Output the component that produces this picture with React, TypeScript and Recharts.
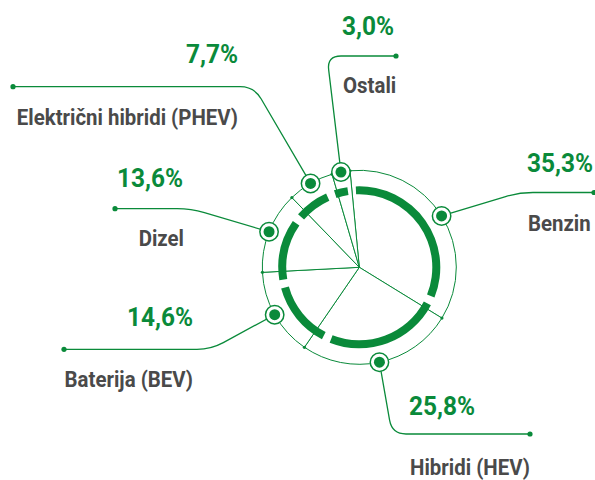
import React from 'react';
import { PieChart, Pie, Cell } from 'recharts';

const categories = ['Benzin', 'Hibridi (HEV)', 'Baterija (BEV)', 'Dizel', 'Električni hibridi (PHEV)', 'Ostali'];
const shares = [35.3, 25.8, 14.6, 13.6, 7.7, 3.0];

const data = categories.map((name, i) => ({ name, value: shares[i] }));

const GREEN = '#0a8a3a';
const GRAY = '#4a4a4a';
const CX = 359.3;
const CY = 267.3;
const R_OUT = 97;
const START = 95.5;

// callout layout (positions only)
const callouts = [
  { ex: 519, ey: 192.5, endX: 594, pct: { x: 527, y: 172, a: 'start' }, lab: { x: 528, y: 231, a: 'start' } },
  { ex: 392, ey: 434, endX: 530, pct: { x: 409, y: 415, a: 'start' }, lab: { x: 410, y: 475, a: 'start' } },
  { ex: 211, ey: 349.3, endX: 64, pct: { x: 193, y: 326, a: 'end' }, lab: { x: 193, y: 387, a: 'end' } },
  { ex: 191, ey: 208.7, endX: 115, pct: { x: 183, y: 187, a: 'end' }, lab: { x: 184, y: 246, a: 'end' } },
  { ex: 254, ey: 86.7, endX: 13, pct: { x: 238, y: 63, a: 'end' }, lab: { x: 238, y: 125, a: 'end' } },
  { ex: 327, ey: 56, endX: 396, pct: { x: 342, y: 35, a: 'start' }, lab: { x: 343, y: 93, a: 'start' } },
];

const RAD = Math.PI / 180;
const fmt = (v: number) => v.toFixed(1).replace('.', ',') + '%';

const renderCallout = (props: any) => {
  const cx = typeof props.cx === 'number' ? props.cx : CX;
  const cy = typeof props.cy === 'number' ? props.cy : CY;
  const r = typeof props.outerRadius === 'number' ? props.outerRadius : R_OUT;
  const { midAngle, index, value, endAngle } = props;
  const c = callouts[index];
  const px = cx + r * Math.cos(-midAngle * RAD);
  const py = cy + r * Math.sin(-midAngle * RAD);
  const rc = 14;
  const dx = c.ex - px;
  const dy = c.ey - py;
  const len = Math.sqrt(dx * dx + dy * dy);
  const ax = c.ex - (dx / len) * rc;
  const ay = c.ey - (dy / len) * rc;
  const sgn = c.endX > c.ex ? 1 : -1;
  const bx = c.ex + sgn * rc;
  const path = `M${px},${py} L${ax},${ay} Q${c.ex},${c.ey} ${bx},${c.ey} L${c.endX},${c.ey}`;
  const ea = typeof endAngle === 'number' ? endAngle : null;
  return (
    <g key={`co-${index}`}>
      {ea !== null && (
        <circle cx={cx + r * Math.cos(-ea * RAD)} cy={cy + r * Math.sin(-ea * RAD)} r={1.6} fill={GREEN} />
      )}
      <path d={path} fill="none" stroke={GREEN} strokeWidth={1.3} />
      <circle cx={c.endX} cy={c.ey} r={2.6} fill={GREEN} />
      <circle cx={px} cy={py} r={9.2} fill="#fff" stroke={GREEN} strokeWidth={1.5} />
      <circle cx={px} cy={py} r={5.5} fill={GREEN} />
      <text
        transform={`translate(${c.pct.x} ${c.pct.y}) scale(0.94 1)`}
        textAnchor={c.pct.a}
        fill={GREEN}
        fontFamily="Roboto"
        fontWeight={700}
        fontSize={26}
      >
        {fmt(value)}
      </text>
      <text
        transform={`translate(${c.lab.x} ${c.lab.y}) scale(0.95 1)`}
        textAnchor={c.lab.a}
        fill={GRAY}
        fontFamily="Roboto"
        fontWeight={700}
        fontSize={21.5}
      >
        {categories[index]}
      </text>
    </g>
  );
};

export default function App() {
  const pad = 6;
  return (
    <div style={{ position: 'absolute', left: 0, top: 0, width: 595, height: 480, background: '#fff' }}>
      <PieChart width={595} height={480} margin={{ top: 0, right: 0, bottom: 0, left: 0 }}>
        <Pie
          data={data}
          dataKey="value"
          nameKey="name"
          cx={CX}
          cy={CY}
          innerRadius={0}
          outerRadius={R_OUT}
          startAngle={START}
          endAngle={START - 360}
          fill="#fff"
          stroke={GREEN}
          strokeWidth={1}
          isAnimationActive={false}
          labelLine={false}
          label={renderCallout}
        >
          {data.map((d, i) => (
            <Cell key={i} fill="#fff" stroke={GREEN} strokeWidth={1} />
          ))}
        </Pie>
        <Pie
          data={data}
          dataKey="value"
          nameKey="name"
          cx={CX}
          cy={CY}
          innerRadius={73}
          outerRadius={81}
          startAngle={START - pad / 2}
          endAngle={START - pad / 2 - 360}
          paddingAngle={pad}
          fill={GREEN}
          stroke="none"
          isAnimationActive={false}
          labelLine={false}
          label={false}
        >
          {data.map((d, i) => (
            <Cell key={i} fill={GREEN} stroke="none" />
          ))}
        </Pie>
        <circle cx={CX} cy={CY} r={1.8} fill={GREEN} />
      </PieChart>
    </div>
  );
}
